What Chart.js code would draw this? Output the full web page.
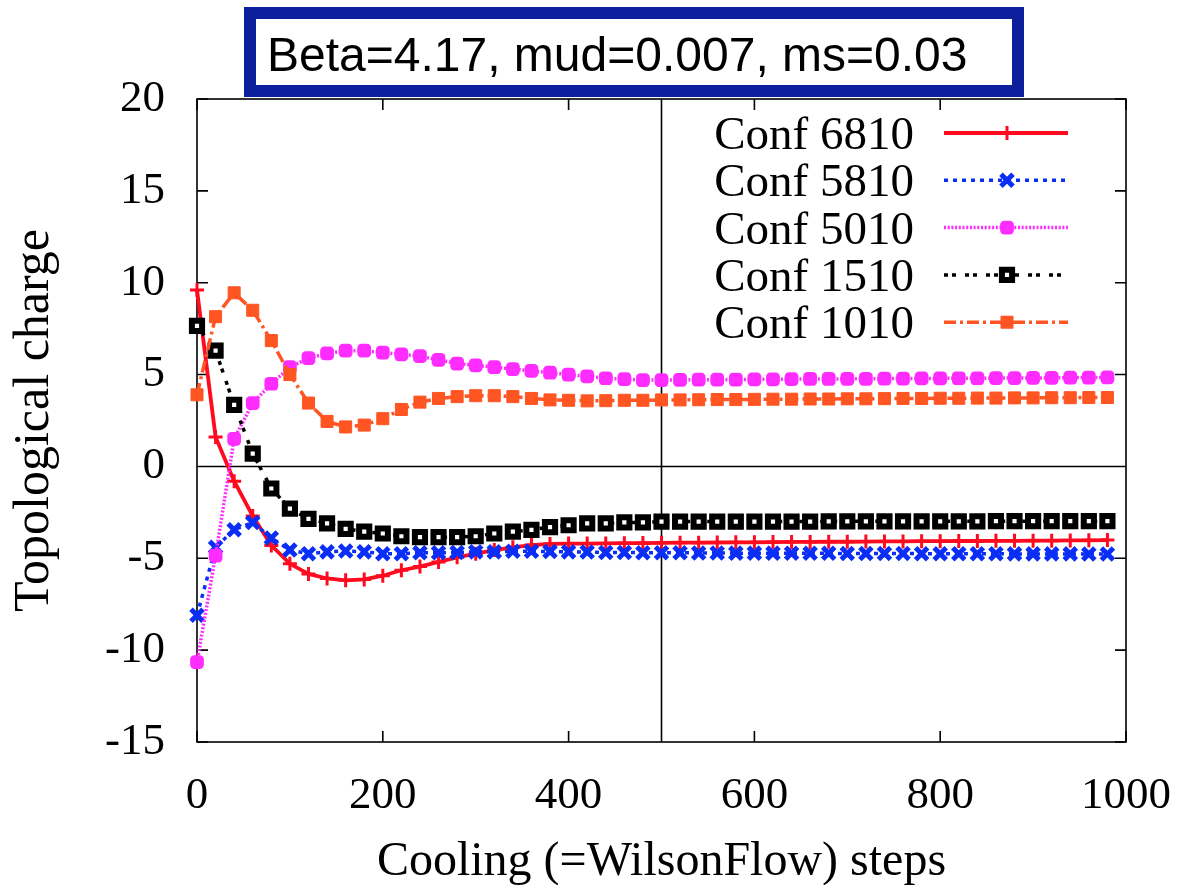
<!DOCTYPE html>
<html>
<head>
<meta charset="utf-8">
<title>Topological charge vs cooling steps</title>
<script src="https://cdn.jsdelivr.net/npm/chart.js@4.4.0/dist/chart.umd.min.js"></script>
<style>
  body { margin: 0; background: #fff; }
  #chart { display: block; }
</style>
</head>
<body>
<canvas id="chart" width="1182" height="885"></canvas>
<script>
// cooling steps, one measurement every 20 steps
const steps = [0, 20, 40, 60, 80, 100, 120, 140, 160, 180,
  200, 220, 240, 260, 280, 300, 320, 340, 360, 380,
  400, 420, 440, 460, 480, 500, 520, 540, 560, 580,
  600, 620, 640, 660, 680, 700, 720, 740, 760, 780,
  800, 820, 840, 860, 880, 900, 920, 940, 960, 980];

const conf6810 = [9.6, 1.6, -0.8, -2.7, -4.3, -5.3, -5.85, -6.1, -6.2, -6.15,
  -5.95, -5.65, -5.45, -5.2, -4.95, -4.75, -4.55, -4.4, -4.28, -4.22,
  -4.2, -4.2, -4.19, -4.18, -4.17, -4.16, -4.15, -4.15, -4.14, -4.13,
  -4.13, -4.12, -4.11, -4.11, -4.1, -4.1, -4.09, -4.08, -4.08, -4.07,
  -4.07, -4.06, -4.06, -4.05, -4.05, -4.04, -4.04, -4.03, -4.02, -4.01];

const conf5810 = [-8.1, -4.4, -3.45, -3.05, -3.9, -4.55, -4.75, -4.65, -4.6, -4.65,
  -4.75, -4.75, -4.7, -4.7, -4.68, -4.65, -4.65, -4.62, -4.62, -4.63,
  -4.65, -4.66, -4.68, -4.68, -4.7, -4.7, -4.7, -4.71, -4.71, -4.72,
  -4.72, -4.72, -4.73, -4.73, -4.73, -4.74, -4.74, -4.74, -4.74, -4.75,
  -4.75, -4.75, -4.75, -4.75, -4.76, -4.76, -4.76, -4.76, -4.77, -4.77];

const conf5010 = [-10.65, -4.85, 1.5, 3.45, 4.5, 5.4, 5.9, 6.15, 6.3, 6.3,
  6.2, 6.1, 6.0, 5.8, 5.6, 5.5, 5.4, 5.3, 5.2, 5.1,
  5.0, 4.9, 4.8, 4.75, 4.7, 4.7, 4.71, 4.72, 4.72, 4.73,
  4.74, 4.74, 4.75, 4.76, 4.76, 4.77, 4.77, 4.78, 4.78, 4.79,
  4.79, 4.8, 4.8, 4.81, 4.81, 4.82, 4.82, 4.83, 4.84, 4.85];

const conf1510 = [7.65, 6.3, 3.35, 0.7, -1.2, -2.3, -2.85, -3.1, -3.4, -3.55,
  -3.65, -3.8, -3.85, -3.85, -3.85, -3.8, -3.65, -3.55, -3.45, -3.3,
  -3.2, -3.1, -3.1, -3.05, -3.05, -3.0, -3.0, -3.0, -3.0, -3.0,
  -3.0, -3.0, -3.0, -3.0, -2.99, -2.99, -2.99, -2.99, -2.99, -2.99,
  -2.99, -2.99, -2.99, -2.98, -2.98, -2.98, -2.98, -2.98, -2.98, -2.98];

const conf1010 = [3.9, 8.15, 9.45, 8.5, 6.85, 5.0, 3.45, 2.45, 2.15, 2.25,
  2.6, 3.1, 3.5, 3.7, 3.8, 3.85, 3.85, 3.8, 3.7, 3.62,
  3.6, 3.57, 3.58, 3.6, 3.6, 3.62, 3.62, 3.63, 3.64, 3.64,
  3.65, 3.66, 3.66, 3.67, 3.67, 3.68, 3.68, 3.69, 3.7, 3.7,
  3.71, 3.71, 3.72, 3.72, 3.73, 3.73, 3.74, 3.74, 3.75, 3.75];

const xTicks = [0, 200, 400, 600, 800, 1000];
const yTicks = [-15, -10, -5, 0, 5, 10, 15, 20];
const headline = 'Beta=4.17, mud=0.007, ms=0.03';

const serif = '"Liberation Serif", "Times New Roman", serif';
const tickLen = 11;

function pts(vals) {
  return steps.map((s, i) => ({ x: s, y: vals[i] }));
}

const series = [
  { label: 'Conf 6810', data: pts(conf6810), color: '#ff0a1e', dash: [], width: 3.8,
    point: { pointStyle: 'cross', radius: 7, borderWidth: 3 }, fill: '#ff0a1e' },
  { label: 'Conf 5810', data: pts(conf5810), color: '#0a2ef5', dash: [4, 5], width: 3.5,
    point: { pointStyle: 'crossRot', radius: 8.5, borderWidth: 5 }, fill: '#0a2ef5' },
  { label: 'Conf 5010', data: pts(conf5010), color: '#ff2cff', dash: [2, 1.7], width: 3.5,
    point: { pointStyle: 'rectRounded', radius: 8, borderWidth: 0 }, fill: '#ff2cff' },
  { label: 'Conf 1510', data: pts(conf1510), color: '#000000', dash: [4, 4, 4, 9], width: 3.5,
    point: { pointStyle: 'rect', radius: 7.2, borderWidth: 6 }, fill: '#ffffff' },
  { label: 'Conf 1010', data: pts(conf1010), color: '#ff5522', dash: [12, 4, 3, 4], width: 3.5,
    point: { pointStyle: 'rect', radius: 8.5, borderWidth: 1 }, fill: '#ff5522' }
];

// frame, zero line, x=500 marker line and inward ticks
const framePlugin = {
  id: 'frame',
  beforeDatasetsDraw(chart) {
    const { ctx, chartArea: a, scales: { x, y } } = chart;
    ctx.save();
    ctx.strokeStyle = '#000';
    ctx.lineWidth = 1.6;
    ctx.beginPath();
    const y0 = y.getPixelForValue(0);
    const x500 = x.getPixelForValue(500);
    ctx.moveTo(a.left, y0);
    ctx.lineTo(a.right, y0);
    ctx.moveTo(x500, a.top);
    ctx.lineTo(x500, a.bottom);
    yTicks.forEach(v => {
      const py = y.getPixelForValue(v);
      ctx.moveTo(a.left, py); ctx.lineTo(a.left + tickLen, py);
      ctx.moveTo(a.right, py); ctx.lineTo(a.right - tickLen, py);
    });
    xTicks.forEach(v => {
      const px = x.getPixelForValue(v);
      ctx.moveTo(px, a.bottom); ctx.lineTo(px, a.bottom - tickLen);
      ctx.moveTo(px, a.top); ctx.lineTo(px, a.top + tickLen);
    });
    ctx.stroke();
    ctx.strokeRect(a.left, a.top, a.right - a.left, a.bottom - a.top);
    ctx.restore();
  }
};

// key in the top right corner, plus the boxed headline above the plot
const keyPlugin = {
  id: 'key',
  afterDraw(chart) {
    const { ctx } = chart;
    ctx.save();
    ctx.font = '47px ' + serif;
    ctx.textAlign = 'right';
    ctx.textBaseline = 'alphabetic';
    series.forEach((s, i) => {
      const cy = 133 + i * 47.3;
      ctx.fillStyle = '#000';
      ctx.fillText(s.label, 914, cy + 16);
      ctx.strokeStyle = s.color;
      ctx.lineWidth = s.width;
      ctx.setLineDash(s.dash);
      ctx.beginPath();
      ctx.moveTo(944, cy);
      ctx.lineTo(1068, cy);
      ctx.stroke();
      ctx.setLineDash([]);
      ctx.fillStyle = s.fill;
      ctx.lineWidth = s.point.borderWidth;
      Chart.helpers.drawPoint(ctx, {
        pointStyle: s.point.pointStyle, radius: s.point.radius,
        rotation: 0, borderWidth: s.point.borderWidth
      }, 1007, cy);
    });

    ctx.fillStyle = '#fff';
    ctx.fillRect(250, 13, 768, 78);
    ctx.strokeStyle = '#0b1f9c';
    ctx.lineWidth = 12;
    ctx.strokeRect(250, 13, 768, 78);
    ctx.fillStyle = '#000';
    ctx.textAlign = 'left';
    ctx.font = '48px "Liberation Sans", Arial, sans-serif';
    ctx.fillText(headline, 267, 71);
    ctx.restore();
  }
};

new Chart(document.getElementById('chart'), {
  type: 'line',
  data: {
    datasets: series.map((s, i) => ({
      label: s.label,
      data: s.data,
      borderColor: s.color,
      borderWidth: s.width,
      borderDash: s.dash,
      tension: 0,
      fill: false,
      clip: false,
      order: series.length - i,
      pointStyle: s.point.pointStyle,
      pointRadius: s.point.radius,
      pointBorderWidth: s.point.borderWidth,
      pointBorderColor: s.color,
      pointBackgroundColor: s.fill
    }))
  },
  options: {
    responsive: false,
    animation: false,
    events: [],
    layout: { padding: { top: 99, right: 56, left: 0, bottom: 0 } },
    plugins: { legend: { display: false }, tooltip: { enabled: false } },
    scales: {
      x: {
        type: 'linear',
        min: 0,
        max: 1000,
        afterBuildTicks: s => { s.ticks = xTicks.map(v => ({ value: v })); },
        afterFit: s => { s.height = 143; s.paddingLeft = 0; s.paddingRight = 0; },
        grid: { display: false },
        border: { display: false },
        ticks: {
          color: '#000', font: { family: serif, size: 45 }, padding: 19, maxRotation: 0,
          callback: v => String(v)
        },
        title: {
          display: true, text: 'Cooling (=WilsonFlow) steps', color: '#000',
          font: { family: serif, size: 48 }, padding: { top: 0, bottom: -6 }
        }
      },
      y: {
        min: -15,
        max: 20,
        afterBuildTicks: s => { s.ticks = yTicks.map(v => ({ value: v })); },
        afterFit: s => { s.width = 197; s.paddingTop = 0; s.paddingBottom = 0; },
        grid: { display: false, drawTicks: false },
        border: { display: false },
        ticks: { color: '#000', font: { family: serif, size: 45 }, padding: 32, callback: v => String(v) },
        title: {
          display: true, text: 'Topological charge', color: '#000',
          font: { family: serif, size: 50 }, padding: { top: 5, bottom: 0 }
        }
      }
    }
  },
  plugins: [framePlugin, keyPlugin]
});
</script>
</body>
</html>
